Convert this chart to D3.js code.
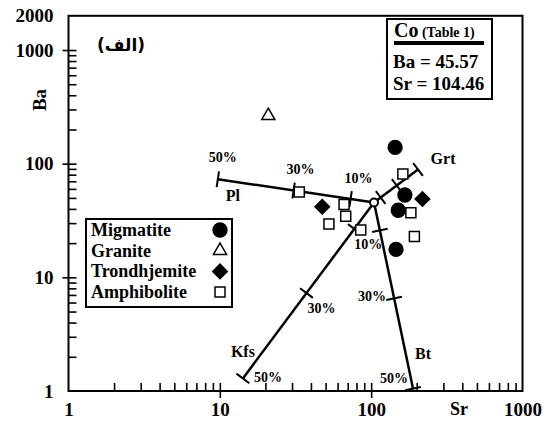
<!DOCTYPE html>
<html lang="en">
<head>
<meta charset="UTF-8" />
<title>Ba vs Sr</title>
<script src="https://d3js.org/d3.v7.min.js"></script>
<style>
  body { margin: 0; background: #fff; }
  svg text { font-family: "Liberation Serif", "Times New Roman", serif; font-weight: bold; fill: #000; }
</style>
</head>
<body>
<svg id="plot" width="549" height="421"></svg>
<script>
// samples (Sr, Ba in ppm)
const migmatiteSr = [144, 167, 151, 146];
const migmatiteBa = [139, 53.0, 38.9, 17.6];
const graniteSr = [20.9];
const graniteBa = [264];
const trondhjemiteSr = [218, 47.5];
const trondhjemiteBa = [48.9, 41.8];
const amphiboliteSr = [33.5, 162, 183, 193, 66.2, 67.9, 52.6, 85.3];
const amphiboliteBa = [56.4, 81.1, 37.0, 22.9, 43.7, 34.4, 29.5, 26.1];

// starting composition Co (Table 1)
const coSr = 104.46;
const coBa = 45.57;

// fractionation vectors, end point = 50% crystallisation
const vectorNames = ["Pl", "Grt", "Kfs", "Bt"];
const vectorEndSr = [9.7, 204, 14.2, 189];
const vectorEndBa = [73, 89, 1.29, 1.05];
const vectorTickPct = ["10%", "30%", "50%"];
const vectorTickPos = [0.15, 0.515, 1];

const xTickLabels = [1, 10, 100, 1000];
const yTickLabels = [1, 10, 100, 1000, 2000];
const legendNames = ["Migmatite", "Granite", "Trondhjemite", "Amphibolite"];

const svg = d3.select("#plot");

const x = d3.scaleLog().domain([1, 1000]).range([68.5, 522.5]);
const y = d3.scaleLog().domain([1, 2000]).range([391, 15.8]);

// y axis, ticks pointing inside
const yAxis = d3.axisLeft(y)
  .tickValues(y.ticks())
  .tickSizeInner(-8)
  .tickSizeOuter(0)
  .tickPadding(15)
  .tickFormat(d => yTickLabels.includes(d) ? d : "");
const gy = svg.append("g").attr("transform", `translate(${x(1)},0)`).call(yAxis)
  .attr("font-family", null).attr("font-size", null);
gy.select(".domain").remove();
gy.selectAll(".tick line")
  .attr("stroke", "#000").attr("stroke-width", 1.6)
  .attr("x1", d => [10, 100, 1000].includes(d) ? -6 : 0)
  .attr("x2", d => (d === 1 || d === 2000) ? 0 : 8);
gy.selectAll(".tick text").style("font-size", "19px");

// x axis
const xAxis = d3.axisBottom(x)
  .tickValues(x.ticks())
  .tickSizeInner(-8)
  .tickSizeOuter(0)
  .tickPadding(12)
  .tickFormat(d => xTickLabels.includes(d) ? d : "");
const gx = svg.append("g").attr("transform", `translate(0,${y(1)})`).call(xAxis)
  .attr("font-family", null).attr("font-size", null);
gx.select(".domain").remove();
gx.selectAll(".tick line")
  .attr("stroke", "#000").attr("stroke-width", 1.6)
  .attr("y1", d => [10, 100].includes(d) ? 7 : 0)
  .attr("y2", d => (d === 1 || d === 1000) ? 0 : -8);
gx.selectAll(".tick text").style("font-size", "19px");

// frame
svg.append("rect")
  .attr("x", x(1)).attr("y", y(2000))
  .attr("width", x(1000) - x(1)).attr("height", y(1) - y(2000))
  .attr("fill", "none").attr("stroke", "#000").attr("stroke-width", 2);

// axis titles
svg.append("text").attr("x", 459).attr("y", 415)
  .attr("text-anchor", "middle").style("font-size", "18px").text("Sr");
svg.append("text").attr("transform", "translate(46,100) rotate(-90)")
  .attr("text-anchor", "middle").style("font-size", "19px").text("Ba");

svg.append("text").attr("x", 121).attr("y", 51)
  .attr("text-anchor", "middle")
  .style("font-family", "'DejaVu Sans', sans-serif")
  .style("font-size", "17px")
  .text("(الف)");

// vectors
const cx = x(coSr), cy = y(coBa);
const lines = svg.append("g");
const pctOffsets = {
  Pl: [[8, -21], [7, -21], [5, -22]],
  Grt: [null, null, null],
  Kfs: [[14, 15], [15, 15], [25, -1]],
  Bt: [null, [-22, -2], [-19, -11]]
};
const nameOffsets = { Pl: [15, 17], Grt: [25, -10], Kfs: [0, -26], Bt: [10, -35] };

vectorNames.forEach((name, i) => {
  const ex = x(vectorEndSr[i]), ey = y(vectorEndBa[i]);
  lines.append("line")
    .attr("x1", cx).attr("y1", cy).attr("x2", ex).attr("y2", ey)
    .attr("stroke", "#000").attr("stroke-width", 2.5);
  const len = Math.hypot(ex - cx, ey - cy);
  const px = -(ey - cy) / len, py = (ex - cx) / len;
  vectorTickPos.forEach((t, j) => {
    const tx = cx + (ex - cx) * t, ty = cy + (ey - cy) * t;
    lines.append("line")
      .attr("x1", tx - px * 8).attr("y1", ty - py * 8)
      .attr("x2", tx + px * 8).attr("y2", ty + py * 8)
      .attr("stroke", "#000").attr("stroke-width", 2);
    const off = pctOffsets[name][j];
    if (off) {
      lines.append("text")
        .attr("x", tx + off[0]).attr("y", ty + off[1] + 5)
        .attr("text-anchor", "middle").style("font-size", "14px")
        .text(vectorTickPct[j]);
    }
  });
  lines.append("text")
    .attr("x", ex + nameOffsets[name][0]).attr("y", ey + nameOffsets[name][1] + 5)
    .attr("text-anchor", "middle").style("font-size", "16px")
    .text(name);
});

// samples
function pts(srs, bas) { return srs.map((s, i) => ({ sr: s, ba: bas[i] })); }
const sym = {
  circle: d3.symbol().type(d3.symbolCircle).size(150),
  triangle: d3.symbol().type(d3.symbolTriangle).size(75),
  diamond: d3.symbol().type(d3.symbolSquare).size(105),
  square: d3.symbol().type(d3.symbolSquare).size(100)
};
const groups = [
  { data: pts(migmatiteSr, migmatiteBa), path: sym.circle(), fill: "#000", rot: 0 },
  { data: pts(graniteSr, graniteBa), path: sym.triangle(), fill: "none", rot: 0 },
  { data: pts(trondhjemiteSr, trondhjemiteBa), path: sym.diamond(), fill: "#000", rot: 45 },
  { data: pts(amphiboliteSr, amphiboliteBa), path: sym.square(), fill: "#fff", rot: 0 }
];
groups.forEach(g => {
  svg.append("g").selectAll("path").data(g.data).join("path")
    .attr("d", g.path)
    .attr("transform", d => `translate(${x(d.sr)},${y(d.ba)}) rotate(${g.rot})`)
    .attr("fill", g.fill)
    .attr("stroke", "#000")
    .attr("stroke-width", 1.5);
});

// Co point
svg.append("circle").attr("cx", cx).attr("cy", cy).attr("r", 4)
  .attr("fill", "#fff").attr("stroke", "#000").attr("stroke-width", 2);

// legend
const legend = svg.append("g");
legend.append("rect").attr("x", 86).attr("y", 219).attr("width", 146).attr("height", 88)
  .attr("fill", "#fff").attr("stroke", "#000").attr("stroke-width", 2);
legendNames.forEach((n, i) => {
  const ly = 230 + i * 20.7;
  legend.append("text").attr("x", 91).attr("y", ly + 6)
    .style("font-size", "18px").text(n);
  legend.append("path").attr("d", groups[i].path)
    .attr("transform", `translate(220,${ly}) rotate(${groups[i].rot})`)
    .attr("fill", groups[i].fill).attr("stroke", "#000").attr("stroke-width", 1.5);
});

// Co info box
const box = svg.append("g");
box.append("rect").attr("x", 387).attr("y", 19).attr("width", 105).attr("height", 80)
  .attr("fill", "#fff").attr("stroke", "#000").attr("stroke-width", 2);
const title = box.append("text").attr("x", 394).attr("y", 37);
title.append("tspan").style("font-size", "20px").text("Co");
title.append("tspan").style("font-size", "14px").text(" (Table 1)");
box.append("rect").attr("x", 394).attr("y", 41).attr("width", 90).attr("height", 4).attr("fill", "#000");
box.append("text").attr("x", 393).attr("y", 68).style("font-size", "19px").text(`Ba = ${coBa}`);
box.append("text").attr("x", 393).attr("y", 90).style("font-size", "19px").text(`Sr = ${coSr}`);
</script>
</body>
</html>
